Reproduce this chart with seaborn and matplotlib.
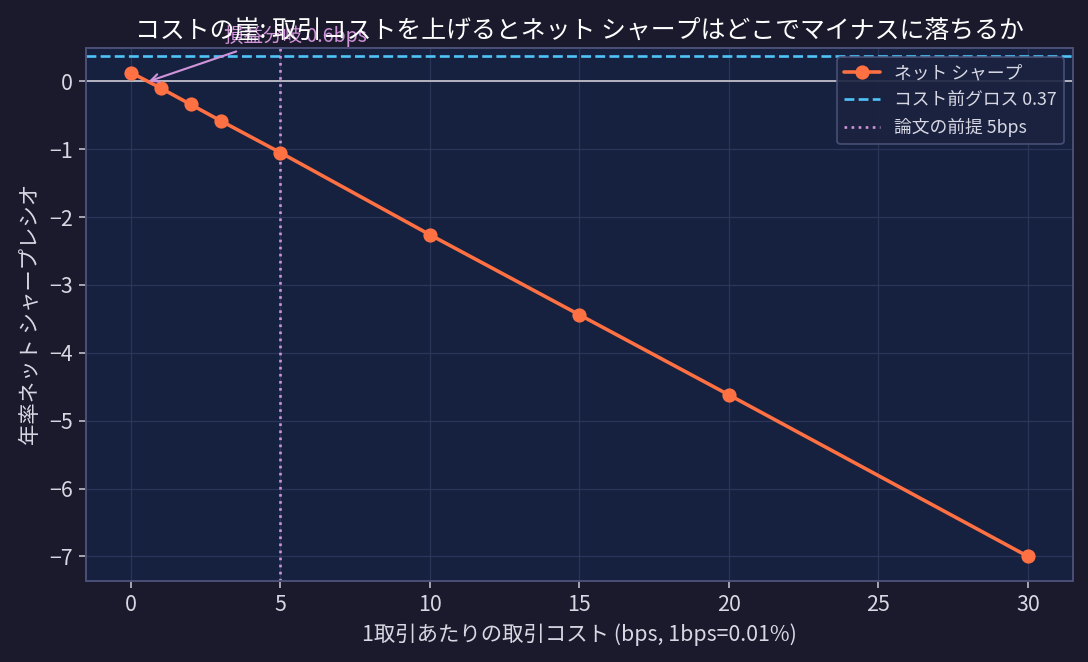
import numpy as np
import pandas as pd
import seaborn as sns
import matplotlib
matplotlib.use("Agg")
import matplotlib.pyplot as plt

# values
cost_bps = [0, 1, 2, 3, 5, 10, 15, 20, 30]
net_sharpe = [0.13, -0.10, -0.34, -0.58, -1.05, -2.26, -3.44, -4.62, -7.00]
gross_sharpe = 0.37
paper_cost = 5
breakeven = 0.6

df = pd.DataFrame({"cost": cost_bps, "sharpe": net_sharpe})

sns.set_theme(style="darkgrid")
plt.rcParams['font.family'] = ['Noto Sans CJK JP', 'DejaVu Sans']
plt.rcParams['axes.unicode_minus'] = True

bg = "#1b1a2c"
ax_bg = "#16203f"
txt = "#d8d8e4"

fig, ax = plt.subplots(figsize=(8.5, 5.171875), dpi=128)
fig.patch.set_facecolor(bg)
ax.set_facecolor(ax_bg)

ax.axhline(0, color="#b4b4c0", lw=1.1, zorder=1)
sns.lineplot(data=df, x="cost", y="sharpe", ax=ax, color="#ff7043", lw=2,
             marker="o", markersize=8, markeredgewidth=0, label="ネット シャープ", zorder=3)
ax.axhline(gross_sharpe, color="#4fc3f7", ls="--", lw=1.5,
           label=f"コスト前グロス {gross_sharpe:.2f}", zorder=2)
ax.axvline(paper_cost, color="#ce93d8", ls=":", lw=1.5,
           label=f"論文の前提 {paper_cost}bps", zorder=2)

ax.annotate(f"損益分岐 {breakeven:.1f}bps", xy=(breakeven, 0), xytext=(5.5, 0.66),
            color="#ce93d8", fontsize=11, ha="center", va="center",
            arrowprops=dict(arrowstyle="->", color="#ce93d8", lw=1.2,
                            shrinkA=0, shrinkB=0, relpos=(0.17, 0)),
            annotation_clip=False)

ax.grid(True, color="#2a3558", lw=0.7)
for s in ax.spines.values():
    s.set_visible(True)
    s.set_color("#4a5078")
    s.set_linewidth(1.1)
ax.tick_params(colors=txt, labelsize=12, length=4, width=1, color="#b4b4c0",
               bottom=True, left=True)
ax.set_xlabel("1取引あたりの取引コスト (bps, 1bps=0.01%)", color=txt, fontsize=12)
ax.set_ylabel("年率ネット シャープレシオ", color=txt, fontsize=12)
ax.set_title("コストの崖: 取引コストを上げるとネット シャープはどこでマイナスに落ちるか",
             color="white", fontsize=14, pad=6)

leg = ax.legend(loc="upper right", fontsize=10, facecolor="#1c2340",
                edgecolor="#4a5078", framealpha=0.9)
for t in leg.get_texts():
    t.set_color(txt)

fig.subplots_adjust(left=0.079, right=0.986, top=0.927, bottom=0.123)
fig.savefig("out.png", dpi=128, facecolor=bg)
